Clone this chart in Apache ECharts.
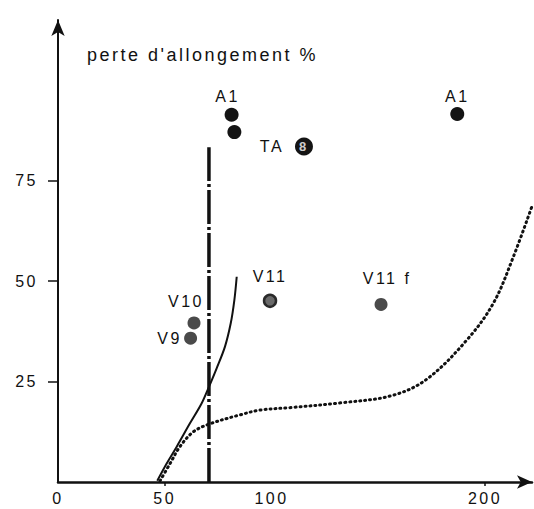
<!DOCTYPE html>
<html>
<head>
<meta charset="utf-8">
<script src="https://cdn.jsdelivr.net/npm/echarts@6/dist/echarts.min.js"></script>
<style>
  html, body { margin: 0; padding: 0; background: #fff; }
  #chart { width: 534px; height: 509px; }
  #chart svg text { letter-spacing: 2.5px; }
</style>
</head>
<body>
<div id="chart"></div>
<script>
// ---- data ----
const titleText = "perte d'allongement %";
const xTickValues = [0, 50, 100, 200];
const xTickMarks = [50, 200];
const yTickValues = [25, 50, 75];

// solid curve
const solidX = [46.5, 50.9, 55.6, 61.8, 67.3, 70.7, 74.3, 78.2, 80.9, 82.6, 83.7];
const solidY = [0.3, 4.6, 8.8, 14.6, 19.6, 23.7, 28.3, 33.7, 39.5, 45.3, 51.1];

// dotted curve
const dottedX = [47.8, 52.5, 57.1, 63.4, 70.7, 85.2, 94.6, 108.4, 132.4, 156.3, 172.5, 191.4, 203.9, 213.3, 221.9];
const dottedY = [0.3, 4.6, 8.8, 12.5, 14.4, 16.7, 17.9, 18.5, 19.7, 21.5, 25.5, 35.3, 44.5, 56.1, 68.5];

// vertical dash-dot line
const vLineX = 70.7;
const vLineTop = 83.3;

// individual points
const pointNames = ['A1', '', 'TA', 'A1', 'V11', 'V11 f', 'V10', 'V9'];
const pointX = [81.3, 82.6, 115.2, 187.0, 99.3, 151.3, 63.7, 62.1];
const pointY = [91.4, 87.1, 83.5, 91.6, 45.1, 44.2, 39.6, 35.8];
const markIndex = 2;       // the circled "8" marker
const markText = '8';

// ---- styling (kept apart from data) ----
const FONT = '"Liberation Sans", Arial, Helvetica, sans-serif';
const INK = '#111111';
const pointKinds = ['black', 'black', 'mark', 'black', 'ring', 'gray', 'gray', 'gray'];
const kindStyle = {
  black: { size: 14, item: { color: '#141414', opacity: 1 } },
  mark:  { size: 18, item: { color: '#141414', opacity: 1 } },
  ring:  { size: 12, item: { color: '#6a6a6a', borderColor: '#2a2a2a', borderWidth: 2.5, opacity: 1 } },
  gray:  { size: 13, item: { color: '#4a4a4a', opacity: 1 } }
};
const labelOffsets = [[-4, -18], [0, 0], [-32, 0], [0, -18], [0, -24], [6, -26], [-8, -21], [-21, 0]];

const zip = (xs, ys) => xs.map((x, i) => [x, ys[i]]);

const pointData = pointX.map((x, i) => {
  const st = kindStyle[pointKinds[i]];
  const name = pointNames[i];
  return {
    value: [x, pointY[i]],
    symbolSize: st.size,
    itemStyle: st.item,
    label: {
      show: name !== '',
      position: 'inside',
      offset: labelOffsets[i],
      formatter: name,
      color: INK,
      fontSize: 16,
      fontFamily: FONT
    }
  };
});

const chart = echarts.init(document.getElementById('chart'), null, { renderer: 'svg' });
chart.setOption({
  animation: false,
  backgroundColor: '#ffffff',
  title: {
    text: titleText,
    left: 82,
    top: 41,
    textStyle: { fontSize: 18, fontWeight: 'normal', color: INK, fontFamily: FONT }
  },
  grid: { left: 58, right: 2, top: 20, bottom: 27, containLabel: false },
  xAxis: {
    type: 'value',
    min: 0,
    max: 222,
    splitLine: { show: false },
    axisLine: {
      lineStyle: { color: INK, width: 2.5 },
      symbol: ['none', 'arrow'],
      symbolSize: [10, 15]
    },
    axisTick: { show: true, length: 4, inside: false, customValues: xTickMarks, lineStyle: { color: INK, width: 1.5 } },
    axisLabel: { customValues: xTickValues, margin: 8, fontSize: 16, color: INK, fontFamily: FONT }
  },
  yAxis: {
    type: 'value',
    min: 0,
    max: 115,
    splitLine: { show: false },
    axisLine: {
      lineStyle: { color: INK, width: 2 },
      symbol: ['none', 'arrow'],
      symbolSize: [10, 16]
    },
    axisTick: { show: true, length: 10, customValues: yTickValues, lineStyle: { color: INK, width: 1.5 } },
    axisLabel: { customValues: yTickValues, margin: 20, fontSize: 16, color: INK, fontFamily: FONT }
  },
  series: [
    {
      type: 'line',
      data: zip(solidX, solidY),
      symbol: 'none',
      smooth: 0.35,
      lineStyle: { color: INK, width: 2 },
      z: 3
    },
    {
      type: 'line',
      data: zip(dottedX, dottedY),
      symbol: 'none',
      smooth: 0.35,
      lineStyle: { color: INK, width: 3, type: [1, 4], cap: 'round' },
      z: 3
    },
    {
      type: 'line',
      data: [[vLineX, 0], [vLineX, vLineTop]],
      symbol: 'none',
      lineStyle: { color: INK, width: 3.5, type: [34, 3, 3, 3] },
      z: 3
    },
    {
      type: 'scatter',
      data: pointData,
      itemStyle: { opacity: 1 },
      z: 5
    },
    {
      type: 'scatter',
      data: [{
        value: [pointX[markIndex], pointY[markIndex]],
        symbolSize: 1,
        itemStyle: { color: 'rgba(0,0,0,0)' },
        label: {
          show: true, position: 'inside', formatter: markText,
          color: '#ffffff', fontSize: 13, fontWeight: 'bold', fontFamily: FONT
        }
      }],
      z: 6
    }
  ]
});
</script>
</body>
</html>
